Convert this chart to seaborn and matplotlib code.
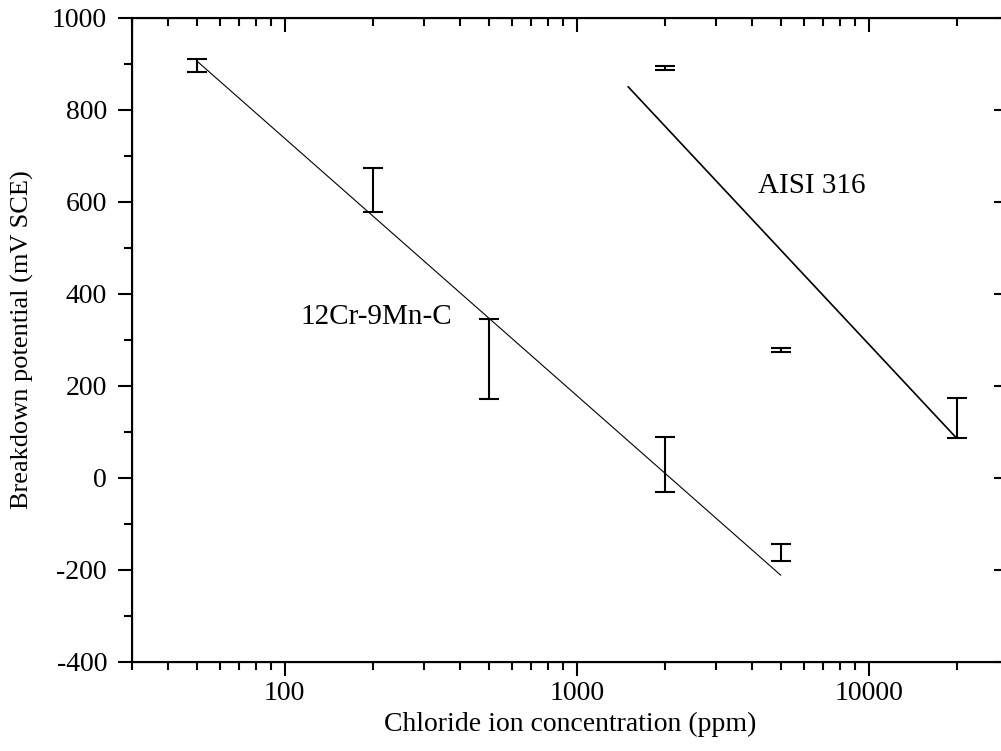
import numpy as np
import pandas as pd
import matplotlib
matplotlib.use("Agg")
import matplotlib.pyplot as plt
import matplotlib.ticker as mticker
import seaborn as sns

# data (ppm, mV SCE)
cr_conc = [50, 200, 500, 2000, 5000]
cr_low = [881, 578, 171, -30, -180]
cr_high = [910, 673, 345, 89, -145]

aisi_conc = [2000, 5000, 20000]
aisi_low = [887, 273, 86]
aisi_high = [894, 281, 174]

# fitted lines
cr_fit_x = [50, 5000]
cr_fit_y = [906, -212]
aisi_fit_x = [1500, 20000]
aisi_fit_y = [850, 86]

sns.set_style("ticks")
plt.rcParams['font.family'] = ['Liberation Serif', 'DejaVu Serif']
plt.rcParams['axes.unicode_minus'] = False
for k in ['text.color', 'axes.labelcolor', 'xtick.color', 'ytick.color', 'axes.edgecolor']:
    plt.rcParams[k] = 'black'

fig = plt.figure(figsize=(10.01, 7.51), dpi=100)
W, H = 1001, 751
ax = fig.add_axes([132 / W, (H - 661.7) / H, (1008 - 132) / W, (661.7 - 17.7) / H])

fit_cr = pd.DataFrame({'x': cr_fit_x, 'y': cr_fit_y})
fit_aisi = pd.DataFrame({'x': aisi_fit_x, 'y': aisi_fit_y})
sns.lineplot(data=fit_cr, x='x', y='y', ax=ax, color='black', linewidth=0.8)
sns.lineplot(data=fit_aisi, x='x', y='y', ax=ax, color='black', linewidth=1.2)

def bars(conc, low, high):
    low = np.array(low, float)
    high = np.array(high, float)
    mid = (low + high) / 2
    ax.errorbar(conc, mid, yerr=[mid - low, high - mid], fmt='none', ecolor='black',
                elinewidth=1.5, capsize=7.2, capthick=1.5)

bars(cr_conc, cr_low, cr_high)
bars(aisi_conc, aisi_low, aisi_high)

ax.set_xscale('log')
ax.set_xlim(30, 30000)
ax.set_ylim(-400, 1000)

ax.xaxis.set_major_locator(mticker.FixedLocator([100, 1000, 10000]))
ax.xaxis.set_major_formatter(mticker.FixedFormatter(['100', '1000', '10000']))
ax.xaxis.set_minor_locator(mticker.LogLocator(base=10, subs=np.arange(2, 10)))
ax.xaxis.set_minor_formatter(mticker.NullFormatter())
ax.yaxis.set_major_locator(mticker.MultipleLocator(200))
ax.yaxis.set_minor_locator(mticker.MultipleLocator(100))

ax.tick_params(which='major', direction='out', length=10, width=1.5, labelsize=20)
ax.tick_params(axis='x', which='major', pad=4)
ax.tick_params(axis='y', which='major', pad=8)
ax.tick_params(which='minor', direction='out', length=5.5, width=1.5)
ax.tick_params(top=False, right=False, which='both')
for s in ax.spines.values():
    s.set_visible(True)
    s.set_linewidth(1.5)
    s.set_color('black')

# inward ticks on top and right
top = ax.twiny()
top.set_xscale('log')
top.set_xlim(ax.get_xlim())
top.xaxis.set_major_locator(mticker.FixedLocator([100, 1000, 10000]))
top.xaxis.set_minor_locator(mticker.LogLocator(base=10, subs=np.arange(2, 10)))
top.tick_params(which='major', direction='in', length=10, width=1.5, labeltop=False)
top.tick_params(which='minor', direction='in', length=5.5, width=1.5)

right = ax.twinx()
right.set_ylim(ax.get_ylim())
right.yaxis.set_major_locator(mticker.MultipleLocator(200))
right.yaxis.set_minor_locator(mticker.NullLocator())
right.tick_params(which='major', direction='in', length=10, width=1.5, labelright=False)

ax.set_xlabel('Chloride ion concentration (ppm)', fontsize=20, labelpad=4)
ax.set_ylabel('Breakdown potential (mV SCE)', fontsize=19)
ax.yaxis.set_label_coords(-0.1119, 0.5)

ax.text(113, 349, '12Cr-9Mn-C', fontsize=21, va='center', ha='left')
ax.text(4180, 634, 'AISI 316', fontsize=21, va='center', ha='left')

fig.savefig('out.png', dpi=100)
